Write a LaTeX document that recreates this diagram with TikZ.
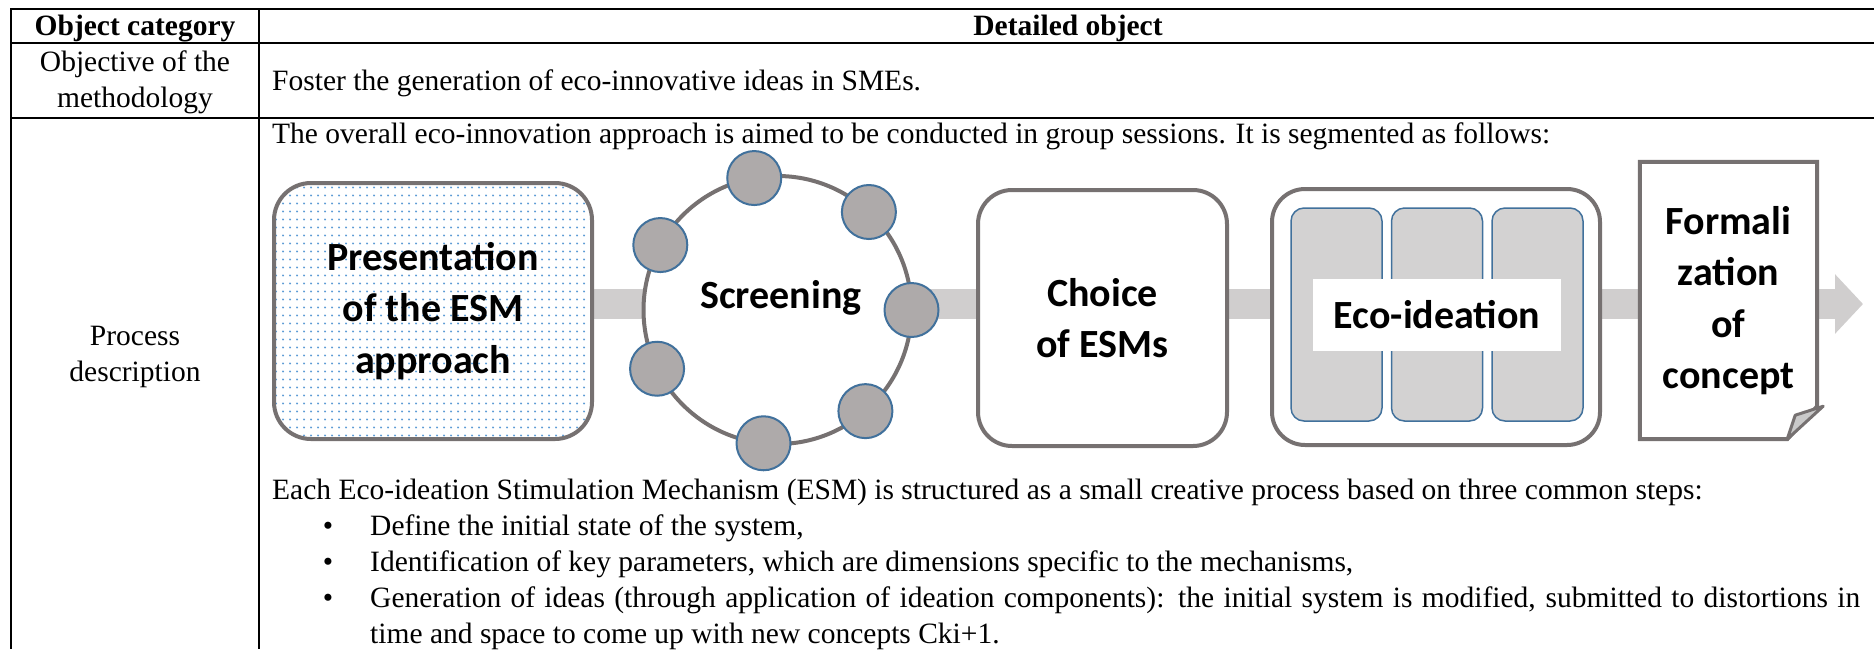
\documentclass[tikz,border=0pt]{standalone}
\usepackage{fontspec}
\setmainfont{Liberation Serif}
\newfontfamily\calibri{Carlito}
\usetikzlibrary{positioning,arrows.meta,patterns,backgrounds}

\definecolor{stagegray}{HTML}{767171}
\definecolor{bandgray}{HTML}{D0CECE}
\definecolor{dotgray}{HTML}{AEAAAA}
\definecolor{dotedge}{HTML}{41719C}
\definecolor{panelgray}{HTML}{D3D2D2}
\definecolor{flapgray}{HTML}{C9C9C9}
\definecolor{dotblue}{HTML}{5B9BD5}

\pgfdeclarepatternformonly{esmdots}{\pgfpointorigin}{\pgfpoint{7pt}{7.5pt}}{\pgfpoint{7pt}{7.5pt}}%
  {\pgfpathcircle{\pgfpoint{3.5pt}{3.75pt}}{1.2pt}\pgfusepath{fill}}

\begin{document}
\begin{tikzpicture}[x=1pt,y=-1pt]%
  \tikzset{%
    rule/.style={line width=2.6pt},
    txt/.style={inner sep=0pt, anchor=base west, font=\fontsize{29.5}{36}\selectfont},
    ctxt/.style={inner sep=0pt, anchor=base, align=center, font=\fontsize{29.5}{36}\selectfont},
    stage/.style={draw=stagegray, line width=4pt, fill=white, rounded corners=34pt,
      align=center, inner sep=0pt, font=\calibri\bfseries\fontsize{40}{51.5}\selectfont},
    esmdot/.style={circle, draw=dotedge, line width=2pt, fill=dotgray, minimum size=54pt, inner sep=0pt},
    panel/.style={draw=dotedge, line width=1.5pt, fill=panelgray, rounded corners=13pt,
      minimum width=91pt, minimum height=213pt},
    band/.style={draw=bandgray, line width=30pt, -{Triangle[length=28pt,width=58pt]}},
  }%
  \useasboundingbox (0,0) rectangle (1874,649);
  % table
  \coordinate (tl) at (11,9);
  \coordinate (tr) at (1874,9);
  \coordinate (cb) at (259,649);
  \draw[rule] (tr) -- (tl) -- (tl |- cb);
  \draw[rule] (cb |- tl) -- (cb);
  \draw[rule] (11,43) -- (1874,43);
  \draw[rule] (11,118) -- (1874,118);
  \node[ctxt, font=\bfseries\fontsize{29.5}{36}\selectfont] (cat) at (135,35) {Object category};
  \node[ctxt, font=\bfseries\fontsize{29.5}{36}\selectfont] (det) at (1068,35) {Detailed object};
  \node[ctxt] (obj) at (135,107) {Objective of the\\methodology};
  \node[txt] (foster) at (272,90) {Foster the generation of eco-innovative ideas in SMEs.};
  \node[txt] (overall) at (272,143) {The overall eco-innovation approach is aimed to be conducted in group sessions. It is segmented as follows:};
  \node[ctxt] (proc) at (135,381) {Process\\description};
  \node[txt] (each) at (272,499) {Each Eco-ideation Stimulation Mechanism (ESM) is structured as a small creative process based on three common steps:};
  \foreach \y/\n in {535/1,571/2,607/3}
    \node[txt, anchor=base] (bul\n) at (328,\y) {\textbullet};
  \node[txt] (stepa) at (370,535) {Define the initial state of the system,};
  \node[txt] (stepb) at (370,571) {Identification of key parameters, which are dimensions specific to the mechanisms,};
  \node[txt, text width=1490pt, align=justify] (stepc) at (370,607) {Generation of ideas (through application of ideation components): the initial system is modified, submitted to distortions in\linebreak time and space to come up with new concepts Cki+1.};
  % process stages
  \node[stage, minimum width=318pt, minimum height=256pt, rounded corners=37pt,
    preaction={fill=white}, pattern=esmdots, pattern color=dotblue] (pres) at (433,311) {Presentation\\of the ESM\\approach};
  \node[circle, draw=stagegray, line width=4pt, fill=white, minimum size=268pt, inner sep=0pt, outer sep=0pt] (screen) at (777.5,310) {};
  \foreach \a [count=\i] in {100,47,0,-49,-96,-154,151}
    \node[esmdot] (esm\i) at (screen.\a) {};
  \node[inner sep=0pt, anchor=base, font=\calibri\bfseries\fontsize{40}{51.5}\selectfont] (screentxt) at (781,308) {Screening};
  \node[stage, minimum width=249pt, minimum height=256pt] (choice) at (1102.5,318) {Choice\\of ESMs};
  \node[stage, minimum width=328pt, minimum height=256pt, rounded corners=33pt] (eco) at (1436,317) {};
  \node[panel] (panA) at (1336.5,314.5) {};
  \node[panel, right=8pt of panA] (panB) {};
  \node[panel, right=8pt of panB] (panC) {};
  \node[fill=white, minimum width=248pt, minimum height=72pt, inner sep=0pt,
    font=\calibri\bfseries\fontsize{40}{51.5}\selectfont] (ecolabel) at (panB) {Eco-ideation};
  \node[minimum width=177pt, minimum height=277pt, inner sep=0pt, align=center,
    font=\calibri\bfseries\fontsize{40}{51.5}\selectfont] (doc) at (1728.5,300.5) {Formali\\zation\\of\\concept};
  \coordinate (tip) at (1863,304);
  \begin{scope}[on background layer]
    \draw[band] (pres.east |- tip) -- (tip);
    \draw[stagegray, line width=4pt, fill=white] (doc.north west) -- (doc.north east)
      -- ([yshift=33pt]doc.south east) -- ([xshift=-30pt]doc.south east) -- (doc.south west) -- cycle;
    \draw[stagegray, line width=3pt, fill=flapgray, line join=round] ([xshift=-30pt]doc.south east)
      -- ([xshift=-22pt,yshift=24pt]doc.south east) -- ([xshift=6pt,yshift=33pt]doc.south east) -- cycle;
  \end{scope}
\end{tikzpicture}
\end{document}
